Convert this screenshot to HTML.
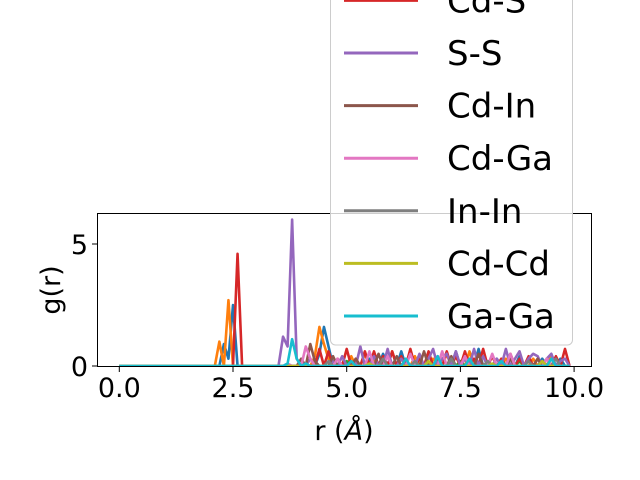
<!DOCTYPE html>
<html><head><meta charset="utf-8"><style>
body{margin:0;background:#fff}
svg{display:block;font-family:"DejaVu Sans","Liberation Sans",sans-serif}
</style></head><body>
<svg id="chart" width="640" height="480" viewBox="0 0 640 480">
<defs><clipPath id="clip"><rect x="97" y="213" width="494" height="154"/></clipPath></defs>
<g id="lines" clip-path="url(#clip)"></g>
<rect x="97.5" y="213.5" width="494" height="153" fill="none" stroke="#000" stroke-width="1"/>
<g id="xticks"></g>
<g id="yticks"></g>
<text x="344" y="440" font-size="27" text-anchor="middle">r (<tspan font-style="italic">Å</tspan>)</text>
<text x="0" y="0" font-size="27" text-anchor="middle" transform="translate(60,290) rotate(-90)">g(r)</text>
<g id="legend"></g>
</svg>
<script>
const rStep = 0.1;
const seriesNames = ["In-S","Ga-S","In-Ga","Cd-S","S-S","Cd-In","Cd-Ga","In-In","Cd-Cd","Ga-Ga"];
const seriesColors = ["#1f77b4","#ff7f0e","#2ca02c","#d62728","#9467bd","#8c564b","#e377c2","#7f7f7f","#bcbd22","#17becf"];
const gInS = [0,0,0,0,0,0,0,0,0,0, 0,0,0,0,0,0,0,0,0,0, 0,0,0,0.9,0.3,2.5,0,0,0,0, 0,0,0,0,0,0,0,0,0,0,
 0,0,0,0,0.5,1.6,0.8,0,0,0, 0,0,0,0,0,0.3,0,0,0.5,0, 0,0,0.6,0,0,0,0.3,0,0,0, 0.4,0,0,0,0.6,0,0,0,0,0.7,
 0,0,0,0.3,0,0,0,0,0.4,0, 0,0,0,0.3,0,0,0,0.3,0,0];
const gGaS = [0,0,0,0,0,0,0,0,0,0, 0,0,0,0,0,0,0,0,0,0, 0,0,1.0,0,2.7,0,0,0,0,0, 0,0,0,0,0,0,0,0,0,0,
 0,0,0,0.4,1.6,0.9,0.3,0,0,0, 0,0.4,0,0,0.5,0,0.3,0,0,0, 0.6,0,0,0,0,0.4,0,0,0,0.3, 0,0,0.5,0,0,0,0,0.6,0,0,
 0.4,0,0,0,0,0.3,0,0,0,0, 0,0.3,0,0,0,0.4,0,0,0,0];
const gInGa = [0,0,0,0,0,0,0,0,0,0, 0,0,0,0,0,0,0,0,0,0, 0,0,0,0,0,0,0,0,0,0, 0,0,0,0,0,0,0,0,0,0,
 0,0,0,0,0,0,0,0,0,0, 0.2,0,0,0,0,0,0,0,0,0, 0,0,0.3,0,0,0,0,0,0,0, 0,0,0,0,0,0.2,0,0,0,0,
 0,0,0,0,0,0,0,0,0.2,0, 0,0,0,0,0,0,0,0,0,0];
const gCdS = [0,0,0,0,0,0,0,0,0,0, 0,0,0,0,0,0,0,0,0,0, 0,0,0,0,0,0,4.6,0,0,0, 0,0,0,0,0,0,0,0,0,0,
 0,0,0,0,0.7,0,0.6,0,0.3,0, 0.7,0,0.3,0,0.6,0,0.6,0,0.4,0, 0.6,0,0.4,0,0.7,0,0.3,0,0.6,0, 0.3,0,0.6,0,0.4,0,0.6,0,0.3,0,
 0.7,0,0.4,0,0.3,0,0.5,0,0.3,0, 0.4,0,0.3,0,0.3,0,0.4,0,0.7,0];
const gSS = [0,0,0,0,0,0,0,0,0,0, 0,0,0,0,0,0,0,0,0,0, 0,0,0,0,0,0,0,0,0,0, 0,0,0,0,0,0,1.2,0.8,6.0,0.3,
 0,0,0.3,0,0,0,0,0.2,0,0.4, 0,0,0,0.8,0,0,0.4,0,0,0.7, 0,0,0.3,0,0,0,0.5,0,0.3,0.7, 0,0.3,0.5,0,0.6,0,0.3,0,0.7,0,
 0.4,0,0,0.3,0,0.7,0,0.3,0.6,0, 0.3,0.5,0.4,0,0.3,0.5,0,0.2,0.3,0];
const gCdIn = [0,0,0,0,0,0,0,0,0,0, 0,0,0,0,0,0,0,0,0,0, 0,0,0,0,0,0,0,0,0,0, 0,0,0,0,0,0,0,0,0,0,
 0.3,0,0.9,0.2,0,0,0,0.4,0,0, 0,0,0.3,0,0,0,0,0.5,0,0, 0,0.4,0,0,0,0,0,0.6,0,0, 0,0,0,0.4,0,0,0,0,0,0.5,
 0,0,0,0,0,0,0.3,0,0,0, 0,0,0.3,0,0,0,0,0,0,0];
const gCdGa = [0,0,0,0,0,0,0,0,0,0, 0,0,0,0,0,0,0,0,0,0, 0,0,0,0,0,0,0,0,0,0, 0,0,0,0,0,0,0,0.1,0,0,
 0,0.8,0.3,0,0,0,0,0,0.3,0, 0,0,0,0,0,0.6,0,0,0,0.4, 0,0,0,0,0.5,0,0,0,0,0, 0,0.6,0,0,0,0,0.4,0,0,0,
 0,0,0.5,0,0,0,0.5,0,0,0, 0,0,0,0,0.3,0,0,0,0,0];
const gInIn = [0,0,0,0,0,0,0,0,0,0, 0,0,0,0,0,0,0,0,0,0, 0,0,0,0,0,0,0,0,0,0, 0,0,0,0,0,0,0,0,0,0,
 0,0,0,0,0,0,0.2,0,0,0, 0,0,0,0,0,0,0,0,0.3,0, 0,0,0,0,0,0.2,0,0,0,0, 0,0,0,0.3,0,0,0,0,0,0,
 0,0.2,0,0,0,0,0,0,0,0, 0.2,0,0,0,0,0,0.3,0,0,0];
const gCdCd = [0,0,0,0,0,0,0,0,0,0, 0,0,0,0,0,0,0,0,0,0, 0,0,0,0,0,0,0,0,0,0, 0,0,0,0,0,0,0,0,0,0,
 0,0,0,0,0,0,0,0,0,0, 0,0,0,0,0,0.1,0,0,0,0, 0,0,0,0,0,0,0,0,0.2,0, 0,0,0,0,0,0,0,0,0,0,
 0,0,0.1,0,0,0,0,0,0,0, 0,0,0,0.2,0,0,0,0,0,0];
const gGaGa = [0,0,0,0,0,0,0,0,0,0, 0,0,0,0,0,0,0,0,0,0, 0,0,0,0,0,0,0,0,0,0, 0,0,0,0,0,0,0,0.1,1.1,0.3,
 0,0.1,0,0,0,0,0,0,0,0, 0,0.2,0,0,0,0,0,0,0,0, 0,0,0,0.3,0,0,0,0,0,0, 0.4,0,0,0,0,0,0,0.3,0,0,
 0,0,0,0,0.2,0,0,0,0,0, 0,0,0,0,0,0.3,0,0,0,0];
const xTickLabels = ["0.0","2.5","5.0","7.5","10.0"];
const xTickValues = [0,2.5,5,7.5,10];
const yTickLabels = ["0","5"];
const yTickValues = [0,5];
const legendLabels = ["In-S","Ga-S","In-Ga","Cd-S","S-S","Cd-In","Cd-Ga","In-In","Cd-Cd","Ga-Ga"];

const allSeries = [gInS,gGaS,gInGa,gCdS,gSS,gCdIn,gCdGa,gInIn,gCdCd,gGaGa];
const NS = "http://www.w3.org/2000/svg";
const xPix = v => 119.3 + v * 45.48;
const yPix = v => 366 - v * 24.4;

const lines = document.getElementById('lines');
allSeries.forEach((arr, s) => {
  const pts = arr.map((g, i) => xPix(i * rStep).toFixed(2) + ',' + yPix(g).toFixed(2)).join(' ');
  const pl = document.createElementNS(NS, 'polyline');
  pl.setAttribute('points', pts);
  pl.setAttribute('fill', 'none');
  pl.setAttribute('stroke', seriesColors[s]);
  pl.setAttribute('stroke-width', '2.6');
  pl.setAttribute('stroke-linejoin', 'round');
  
  
  lines.appendChild(pl);
});

const xt = document.getElementById('xticks');
xTickValues.forEach((v, i) => {
  const x = xPix(v);
  const l = document.createElementNS(NS, 'line');
  l.setAttribute('x1', x); l.setAttribute('x2', x);
  l.setAttribute('y1', 367); l.setAttribute('y2', 372);
  l.setAttribute('stroke', '#000');
  
  
  xt.appendChild(l);
  const t = document.createElementNS(NS, 'text');
  t.setAttribute('x', x); t.setAttribute('y', 397);
  t.setAttribute('font-size', '27'); t.setAttribute('text-anchor', 'middle');
  t.textContent = xTickLabels[i];
  
  
  xt.appendChild(t);
});
const yt = document.getElementById('yticks');
yTickValues.forEach((v, i) => {
  const y = yPix(v);
  const l = document.createElementNS(NS, 'line');
  l.setAttribute('x1', 92); l.setAttribute('x2', 97);
  l.setAttribute('y1', y); l.setAttribute('y2', y);
  l.setAttribute('stroke', '#000');
  
  
  yt.appendChild(l);
  const t = document.createElementNS(NS, 'text');
  t.setAttribute('x', 88); t.setAttribute('y', y + 10);
  t.setAttribute('font-size', '27'); t.setAttribute('text-anchor', 'end');
  t.textContent = yTickLabels[i];
  
  
  yt.appendChild(t);
});

const lg = document.getElementById('legend');
const box = document.createElementNS(NS, 'rect');
box.setAttribute('x', 330.5); box.setAttribute('y', -300);
box.setAttribute('width', 242); box.setAttribute('height', 645);
box.setAttribute('rx', 5);
box.setAttribute('fill', 'rgba(255,255,255,0.8)');
box.setAttribute('stroke', '#cccccc');


lg.appendChild(box);
legendLabels.forEach((lab, i) => {
  const cy = 316 - (legendLabels.length - 1 - i) * 52.6;
  const l = document.createElementNS(NS, 'line');
  l.setAttribute('x1', 344); l.setAttribute('x2', 418);
  l.setAttribute('y1', cy); l.setAttribute('y2', cy);
  l.setAttribute('stroke', seriesColors[i]); l.setAttribute('stroke-width', '3');
  
  
  lg.appendChild(l);
  const t = document.createElementNS(NS, 'text');
  t.setAttribute('x', 447); t.setAttribute('y', cy + 12);
  t.setAttribute('font-size', '34');
  t.textContent = lab;
  
  
  lg.appendChild(t);
});
</script>
</body></html>
